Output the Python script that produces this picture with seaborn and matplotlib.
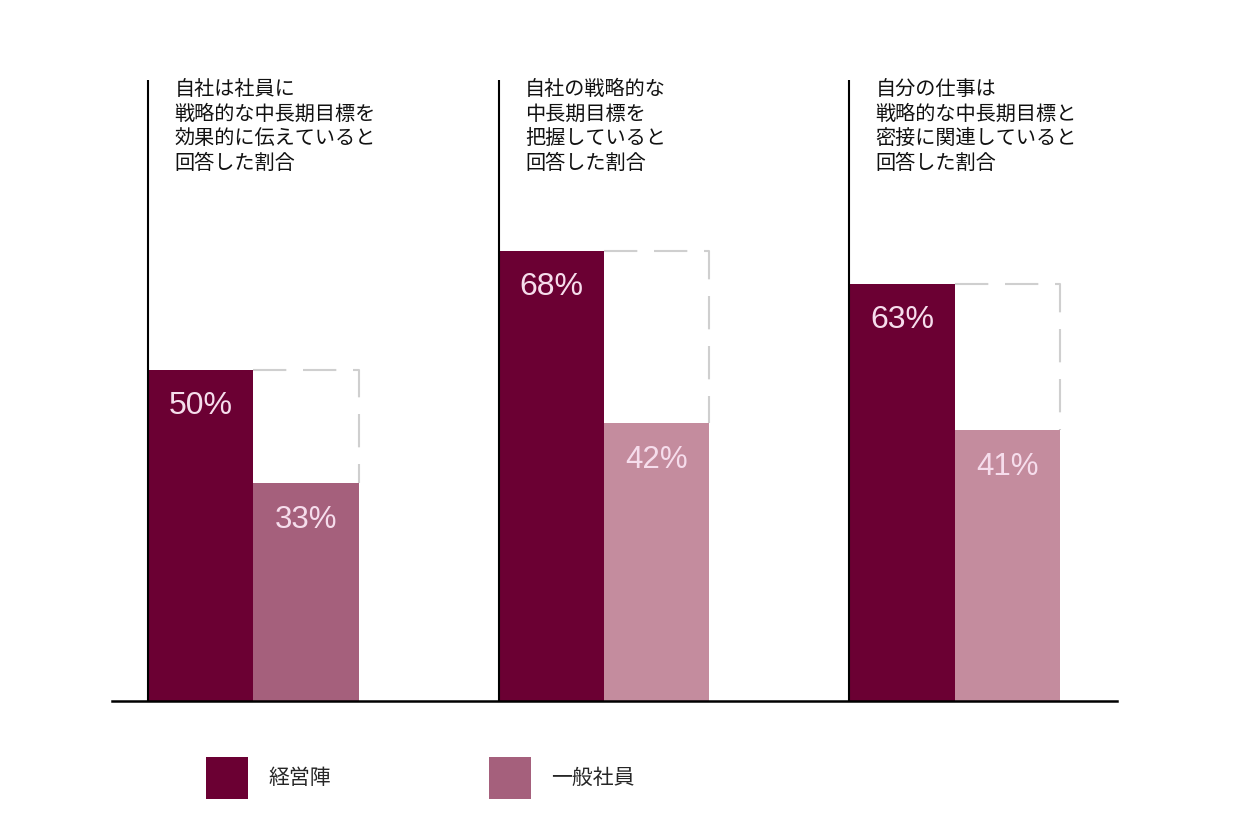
import numpy as np
import pandas as pd
import seaborn as sns
import matplotlib.pyplot as plt

# data
questions = [
    '自社は社員に\n戦略的な中長期目標を\n効果的に伝えていると\n回答した割合',
    '自社の戦略的な\n中長期目標を\n把握していると\n回答した割合',
    '自分の仕事は\n戦略的な中長期目標と\n密接に関連していると\n回答した割合',
]
groups = ['経営陣', '一般社員']
executives = [50, 68, 63]
employees = [33, 42, 41]

dark = '#6B0033'
mid = '#A5607C'
light = '#C48C9E'
label_color = '#F6DDEC'

df = pd.DataFrame({
    'question': questions * 2,
    'group': [groups[0]] * 3 + [groups[1]] * 3,
    'value': executives + employees,
})

sns.set_theme(style='white')
plt.rcParams['font.family'] = ['Noto Sans CJK JP', 'DejaVu Sans']

fig = plt.figure(figsize=(12.56, 8.36), dpi=100)
ax = fig.add_axes([112 / 1256, 135 / 836, 1005 / 1256, 662 / 836])

sns.barplot(data=df, x='question', y='value', hue='group', order=questions,
            hue_order=groups, palette=[dark, mid], width=0.6, gap=0,
            saturation=1, linewidth=0, ax=ax, zorder=2)

ax.set_ylim(0, 100)
ax.set_xlim(-0.4037, 2.4636)

dark_bars = ax.containers[0]
light_bars = ax.containers[1]

# later groups use a lighter pink
for i, p in enumerate(light_bars):
    if i > 0:
        p.set_facecolor(light)

for i, (pd_, pl) in enumerate(zip(dark_bars, light_bars)):
    x0 = pd_.get_x()
    # vertical rule and question text
    ax.plot([x0, x0], [0, 93.8], color='black', lw=1.5, zorder=3,
            solid_capstyle='butt')
    ax.text(x0 + 0.075, 93.95, questions[i], ha='left', va='top',
            fontsize=14.5, color='#111111', linespacing=1.22)
    # dashed outline showing the executives' level
    xl, w = pl.get_x(), pl.get_width()
    ax.plot([xl, xl + w, xl + w], [executives[i], executives[i], employees[i]],
            color='#cfcfcf', lw=1.5, ls=(0, (16, 8)), zorder=1)
    # value labels
    ax.text(pd_.get_x() + pd_.get_width() / 2, executives[i] - 5.5,
            f'{executives[i]}%', ha='center', va='center', fontsize=23,
            color=label_color, family='Liberation Sans', zorder=4)
    ax.text(xl + w / 2, employees[i] - 5.6, f'{employees[i]}%',
            ha='center', va='center', fontsize=22.5, color=label_color,
            family='Liberation Sans', zorder=4)

ax.set_xlabel('')
ax.set_ylabel('')
ax.set_xticks([])
ax.set_yticks([])
for s in ['top', 'left', 'right']:
    ax.spines[s].set_visible(False)
ax.spines['bottom'].set_color('black')
ax.spines['bottom'].set_linewidth(1.8)

sns.move_legend(ax, 'upper left', bbox_to_anchor=(206 / 1256, 1 - 757 / 836),
                bbox_transform=fig.transFigure, ncol=2, frameon=False,
                title=None, fontsize=15, handlelength=2.02, handleheight=2.75,
                handletextpad=0.96, columnspacing=7.6, borderpad=0,
                borderaxespad=0)

fig.savefig('out.png', dpi=100)
